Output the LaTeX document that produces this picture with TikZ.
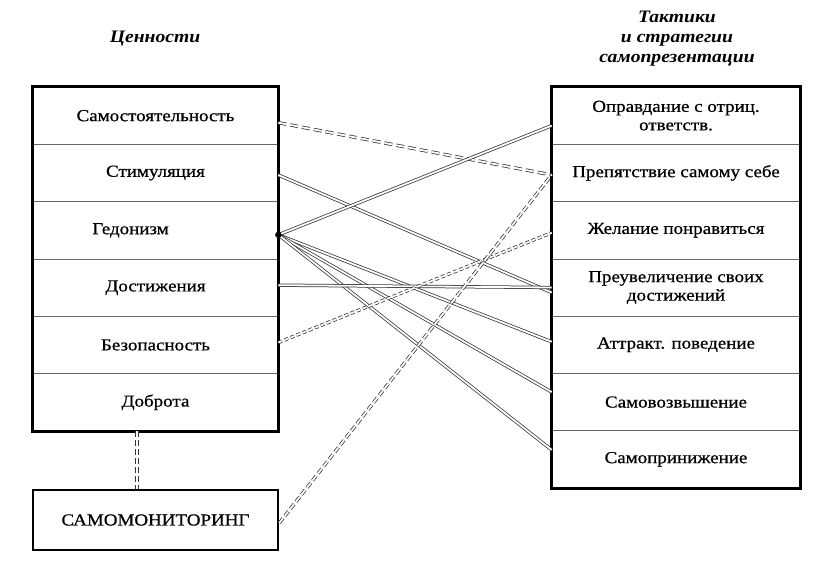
\documentclass[tikz,border=0pt]{standalone}
\usepackage{fontspec}
\setmainfont{Liberation Serif}[FakeStretch=1.12]
\newfontfamily\boxfont{Liberation Serif}[FakeStretch=1.13, FakeBold=0.7]
\usetikzlibrary{calc}
\begin{document}
\begin{tikzpicture}[x=1pt,y=-1pt,
  lrow/.style={draw=black!60, line width=0.7pt, minimum width=245pt, minimum height=57.33pt,
    inner sep=0pt, align=center, font=\boxfont\fontsize{16.8}{18.5}\selectfont},
  rrow/.style={lrow, minimum width=248pt, minimum height=57.29pt},
  frame/.style={line width=2.6pt, draw=black},
  hdr/.style={align=center, font=\bfseries\itshape\fontsize{17.5}{20}\selectfont},
  link/.style={draw=black!80, line width=0.75pt, double=white, double distance=1.8pt},
  dlink/.style={link, dash pattern=on 8pt off 4pt},
  dlinkb/.style={link, dash pattern=on 6pt off 3pt},
  slink/.style={link, dash pattern=on 4pt off 2.5pt}
]
\useasboundingbox (0,0) rectangle (820,563);

% headers
\node[hdr] (h1) at (155,39) {Ценности};
\node[hdr] (h2) at (677,39) {Тактики\\и стратегии\\самопрезентации};

% left box rows
\node[lrow] (l1) at (155.5,115.67) {Самостоятельность};
\node[lrow] (l2) at (155.5,173.00) {Стимуляция};
\node[lrow] (l3) at (155.5,230.33) {Гедонизм\hspace*{50pt}};
\node[lrow] (l4) at (155.5,287.67) {Достижения};
\node[lrow] (l5) at (155.5,345.00) {Безопасность};
\node[lrow] (l6) at (155.5,402.33) {Доброта};
\draw[frame] (l1.north west) rectangle (l6.south east);

% right box rows
\node[rrow] (r1) at (676,115.64) {Оправдание с отриц.\\ответств.};
\node[rrow] (r2) at (676,172.93) {Препятствие самому себе};
\node[rrow] (r3) at (676,230.21) {Желание понравиться};
\node[rrow] (r4) at (676,287.50) {Преувеличение своих\\достижений};
\node[rrow] (r5) at (676,344.79) {Аттракт. поведение};
\node[rrow] (r6) at (676,402.07) {Самовозвышение};
\node[rrow] (r7) at (676,459.36) {Самоприниже\-ние};
\draw[frame] (r1.north west) rectangle (r7.south east);

% self-monitoring box
\node[lrow, frame, minimum height=60pt] (mon) at (155.5,520) {САМОМОНИТОРИНГ};

% hub point on Hedonism
\coordinate (dot) at ($(l3.east)+(0,4.5)$);

% connectors
\draw[dlink] ($(l1.east)+(0,7)$) -- ($(r2.west)+(0,2)$);
\draw[link] ($(l2.east)+(0,2)$) -- ($(r4.west)+(0,5)$);
\draw[link] (dot) -- ($(r1.west)+(0,10)$);
\draw[link] (dot) -- ($(r5.west)+(0,-3)$);
\draw[link] (dot) -- ($(r6.west)+(0,-10)$);
\draw[link] (dot) -- ($(r7.west)+(0,-9.5)$);
\draw[link] ($(l4.east)+(0,-2.5)$) -- (r4.west);
\draw[slink] ($(l5.east)+(0,-2.5)$) -- ($(r3.west)+(0,2.5)$);
\draw[dlinkb] ($(mon.east)+(0,3)$) -- ($(r2.west)+(0,2)$);
\draw[dlinkb] ($(l6.south)+(-18.5,0)$) -- ($(mon.north)+(-18.5,0)$);
\fill (dot) circle (3.2);
\end{tikzpicture}
\end{document}
